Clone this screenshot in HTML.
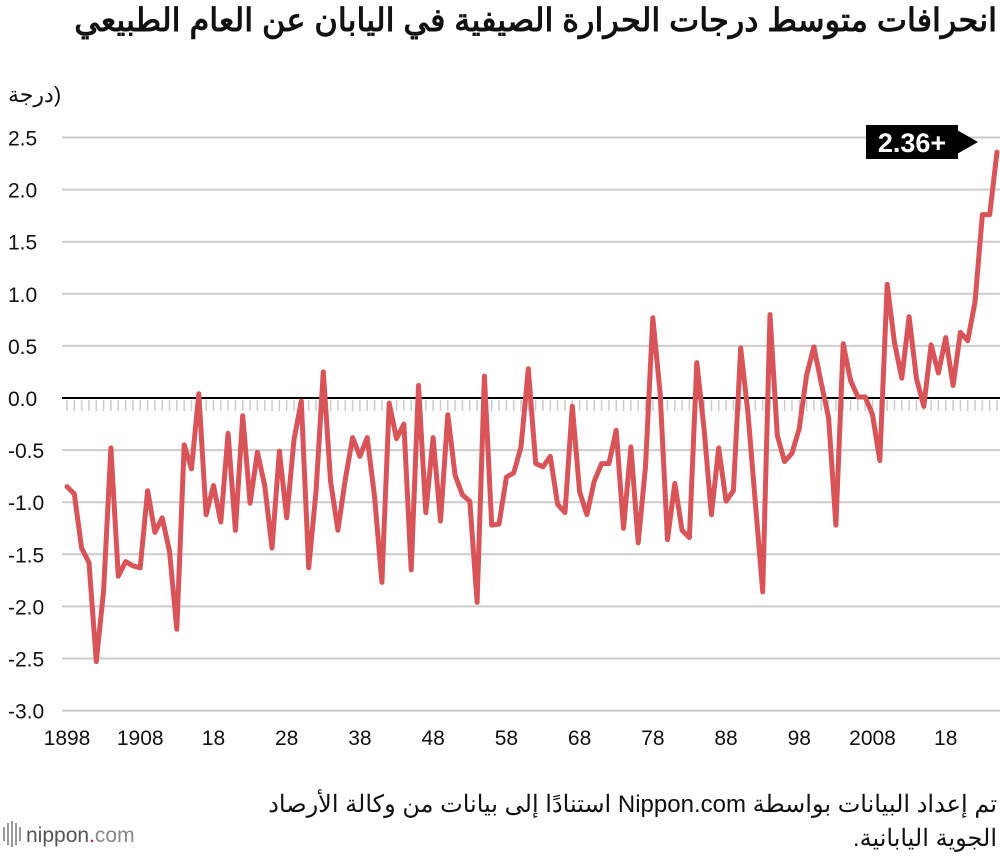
<!DOCTYPE html>
<html><head><meta charset="utf-8"><style>
body{margin:0;background:#fff;width:1000px;height:860px;overflow:hidden;font-family:"Liberation Sans","Noto Sans CJK SC",sans-serif;position:relative}
svg{display:block;position:absolute;left:0;top:0}
.t{position:absolute;white-space:nowrap;color:#111}
</style></head><body>
<svg id="chart" width="1000" height="860" viewBox="0 0 1000 860" xmlns="http://www.w3.org/2000/svg">
<g id="grid"></g>
<g id="series"></g>
<g id="xlabels"></g>
<g>
<rect x="866" y="125" width="92" height="34" fill="#000"/>
<polygon points="957,130 978,142 957,154" fill="#000"/>
<text x="912" y="152" text-anchor="middle" font-size="27" font-weight="bold" fill="#fff">2.36+</text>
</g>
<g>
<g fill="#999"><rect x="3" y="827" width="2" height="14"/><rect x="7" y="823" width="2" height="22"/><rect x="11" y="821" width="2" height="26"/><rect x="15" y="823" width="2" height="22"/><rect x="19" y="827" width="2" height="14"/></g>
<text x="26" y="842" font-size="21" fill="#555">nippon<tspan fill="#e5002d">.</tspan><tspan fill="#888">com</tspan></text>
</g>
</svg>
<div class="t" dir="rtl" style="right:3px;top:1px;font-size:32px;font-weight:bold">انحرافات متوسط درجات الحرارة الصيفية في اليابان عن العام الطبيعي</div>
<div class="t" dir="rtl" style="left:8px;top:82px;font-size:22px">(درجة</div>
<div class="t" dir="rtl" style="right:3px;top:790px;font-size:24px">تم إعداد البيانات بواسطة Nippon.com استنادًا إلى بيانات من وكالة الأرصاد</div>
<div class="t" dir="rtl" style="right:3px;top:824px;font-size:24px">الجوية اليابانية.</div>
<script>
const years = [];
for (let y = 1898; y <= 2025; y++) years.push(y);
const anomalies = [-0.85,-0.92,-1.44,-1.58,-2.53,-1.85,-0.48,-1.71,-1.57,-1.61,-1.63,-0.89,-1.29,-1.15,-1.47,-2.22,-0.45,-0.68,0.04,-1.12,-0.84,-1.19,-0.34,-1.27,-0.17,-1.01,-0.52,-0.84,-1.44,-0.51,-1.15,-0.4,-0.03,-1.63,
-0.9,0.25,-0.8,-1.27,-0.78,-0.38,-0.56,-0.38,-0.95,-1.77,-0.05,-0.39,-0.25,-1.65,0.12,-1.1,-0.38,-1.18,-0.16,-0.74,-0.93,-0.99,-1.96,0.21,-1.22,-1.21,-0.76,-0.72,-0.47,0.28,-0.63,-0.66,-0.56,
-1.02,-1.1,-0.08,-0.9,-1.12,-0.8,-0.63,-0.63,-0.31,-1.25,-0.47,-1.39,-0.66,0.77,0.05,-1.36,-0.82,-1.27,-1.34,0.34,-0.3,-1.12,-0.48,-0.99,-0.89,0.48,-0.15,-1.0,-1.86,
0.8,-0.36,-0.61,-0.53,-0.29,0.22,0.49,0.14,-0.19,-1.22,0.52,0.17,0.01,0.01,-0.16,-0.6,1.09,0.53,0.19,0.78,0.19,-0.08,0.51,0.24,0.58,0.12,0.63,0.55,0.92,1.76,1.76,2.36];
const yTicks = [2.5,2.0,1.5,1.0,0.5,0.0,-0.5,-1.0,-1.5,-2.0,-2.5,-3.0];
const yTickLabels = ["2.5","2.0","1.5","1.0","0.5","0.0","-0.5","-1.0","-1.5","-2.0","-2.5","-3.0"];
const xTickYears = [1898,1908,1918,1928,1938,1948,1958,1968,1978,1988,1998,2008,2018];
const xTickLabels = ["1898","1908","18","28","38","48","58","68","78","88","98","2008","18"];

const NS = "http://www.w3.org/2000/svg";
const x = yr => 67 + (yr - 1898) * (930 / 127);
const y = v => 398 - v * 104.2;
const grid = document.getElementById('grid');
yTicks.forEach((t, i) => {
  const l = document.createElementNS(NS, 'line');
  
  
  l.setAttribute('x1', 62); l.setAttribute('x2', 1000);
  l.setAttribute('y1', y(t)); l.setAttribute('y2', y(t));
  l.setAttribute('stroke', t === 0 ? '#000' : '#ccc');
  l.setAttribute('stroke-width', 2);
  grid.appendChild(l);
  const tx = document.createElementNS(NS, 'text');
  
  
  tx.setAttribute('x', 8); tx.setAttribute('y', y(t) + 8);
  tx.setAttribute('font-size', 21); tx.setAttribute('fill', '#111');
  tx.textContent = yTickLabels[i];
  grid.appendChild(tx);
});
years.forEach(yr => {
  const l = document.createElementNS(NS, 'line');
  
  
  l.setAttribute('x1', x(yr)); l.setAttribute('x2', x(yr));
  l.setAttribute('y1', 400); l.setAttribute('y2', 411);
  l.setAttribute('stroke', '#ccc'); l.setAttribute('stroke-width', 1.5);
  grid.appendChild(l);
});
const xl = document.getElementById('xlabels');
xTickYears.forEach((yr, i) => {
  const tx = document.createElementNS(NS, 'text');
  
  
  tx.setAttribute('x', x(yr)); tx.setAttribute('y', 745);
  tx.setAttribute('text-anchor', 'middle');
  tx.setAttribute('font-size', 21); tx.setAttribute('fill', '#111');
  tx.textContent = xTickLabels[i];
  xl.appendChild(tx);
});
const p = document.createElementNS(NS, 'polyline');


p.setAttribute('points', anomalies.map((v, i) => x(years[i]).toFixed(1) + ',' + y(v).toFixed(1)).join(' '));
p.setAttribute('fill', 'none'); p.setAttribute('stroke', '#d95459');
p.setAttribute('stroke-width', 5); p.setAttribute('stroke-linejoin', 'round'); p.setAttribute('stroke-linecap', 'round');
document.getElementById('series').appendChild(p);
</script>
</body></html>
